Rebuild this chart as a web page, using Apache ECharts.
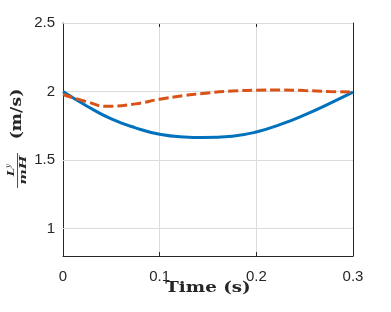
<!DOCTYPE html>
<html><head><meta charset="utf-8">
<script src="https://cdn.jsdelivr.net/npm/echarts@6/dist/echarts.min.js"></script>
<style>html,body{margin:0;padding:0;background:#fff}#c{width:391px;height:312px}</style>
</head><body><div id="c"></div>
<script>
var timeBlue = [0, 0.025, 0.05, 0.075, 0.1, 0.125, 0.145, 0.175, 0.2, 0.225, 0.25, 0.275, 0.3];
var valBlue  = [2.0, 1.893, 1.80, 1.735, 1.688, 1.668, 1.664, 1.674, 1.705, 1.76, 1.83, 1.91, 1.995];
var timeOrange = [0, 0.025, 0.045, 0.075, 0.1, 0.125, 0.15, 0.175, 0.2, 0.225, 0.25, 0.275, 0.3];
var valOrange  = [1.978, 1.925, 1.892, 1.91, 1.944, 1.97, 1.99, 2.003, 2.01, 2.012, 2.007, 2.0, 1.996];
var xTicks = [0, 0.1, 0.2, 0.3];
var yTicks = [1, 1.5, 2, 2.5];

function pairs(xs, ys){ return xs.map(function(x,i){return [x, ys[i]];}); }

var axisColor = '#262626';
var tickFont = {color: axisColor, fontSize: 15, fontFamily: 'Liberation Sans, Arial, sans-serif'};
var chart = echarts.init(document.getElementById('c'), null, {renderer: 'canvas'});
chart.setOption({
  animation: false,
  grid: {left: 63, right: 38, top: 23, bottom: 56, containLabel: false},
  xAxis: [{
    type: 'value', min: 0, max: 0.3, interval: 0.1,
    axisLine: {show: true, onZero: false, lineStyle: {color: axisColor, width: 1}},
    axisTick: {show: true, inside: true, length: 4, lineStyle: {color: axisColor}},
    axisLabel: Object.assign({margin: 13, formatter: function(v){return String(+v.toFixed(2));}}, tickFont),
    splitLine: {show: true, lineStyle: {color: '#dcdcdc', width: 1}}
  }, {
    type: 'value', min: 0, max: 0.3, interval: 0.1, position: 'top',
    axisLine: {show: true, onZero: false, lineStyle: {color: axisColor, width: 1}},
    axisTick: {show: true, inside: true, length: 4, lineStyle: {color: axisColor}},
    axisLabel: {show: false}, splitLine: {show: false}
  }],
  yAxis: [{
    type: 'value', min: 0.8, max: 2.5,
    axisLine: {show: true, onZero: false, lineStyle: {color: axisColor, width: 1}},
    axisTick: {show: true, inside: true, length: 4, customValues: yTicks, lineStyle: {color: axisColor}},
    axisLabel: Object.assign({margin: 8, customValues: yTicks, formatter: function(v){return String(+v.toFixed(2));}}, tickFont),
    splitLine: {show: false}
  }, {
    type: 'value', min: 0.8, max: 2.5, position: 'right',
    axisLine: {show: true, onZero: false, lineStyle: {color: axisColor, width: 1}},
    axisTick: {show: true, inside: true, length: 4, customValues: yTicks, lineStyle: {color: axisColor}},
    axisLabel: {show: false}, splitLine: {show: false}
  }],
  series: [{
    type: 'line', data: pairs(timeBlue, valBlue), smooth: 0.5, showSymbol: false,
    lineStyle: {color: '#0072BD', width: 3}, z: 3,
    markLine: {silent: true, symbol: 'none', label: {show: false},
      lineStyle: {color: '#dcdcdc', width: 1, type: 'solid'},
      data: yTicks.map(function(v){return {yAxis: v};}), z: 1}
  }, {
    type: 'line', data: pairs(timeOrange, valOrange), smooth: 0.5, showSymbol: false,
    lineStyle: {color: '#D95319', width: 3, type: [10, 4]}, z: 4
  }],
  graphic: [{
    type: 'text', x: 208, y: 288, scaleX: 1.22,
    style: {text: 'Time (s)', font: 'bold 15px "DejaVu Serif", serif', fill: axisColor, textAlign: 'center', textVerticalAlign: 'middle'}
  }, {
    type: 'group', x: 17, y: 140, rotation: Math.PI/2,
    children: [
      {type: 'text', x: 26, y: 0, scaleX: 1.15, style: {text: '(m/s)', font: 'bold 15px "DejaVu Serif", serif', fill: axisColor, textAlign: 'center', textVerticalAlign: 'middle'}},
      {type: 'text', x: -32, y: -0.5, scaleX: 1.2, style: {text: 'L', font: 'italic bold 10px "DejaVu Serif", serif', fill: axisColor, textAlign: 'center', textVerticalAlign: 'bottom'}},
      {type: 'text', x: -26, y: -5, style: {text: 'y', font: 'italic 7px "DejaVu Serif", serif', fill: axisColor, textAlign: 'center', textVerticalAlign: 'bottom'}},
      {type: 'line', shape: {x1: -48, y1: 0.5, x2: -13, y2: 0.5}, style: {stroke: axisColor, lineWidth: 0.8}},
      {type: 'text', x: -30, y: 1.5, scaleX: 1.45, style: {text: 'mH', font: 'italic bold 10px "DejaVu Serif", serif', fill: axisColor, textAlign: 'center', textVerticalAlign: 'top'}}
    ]
  }]
});
</script></body></html>
